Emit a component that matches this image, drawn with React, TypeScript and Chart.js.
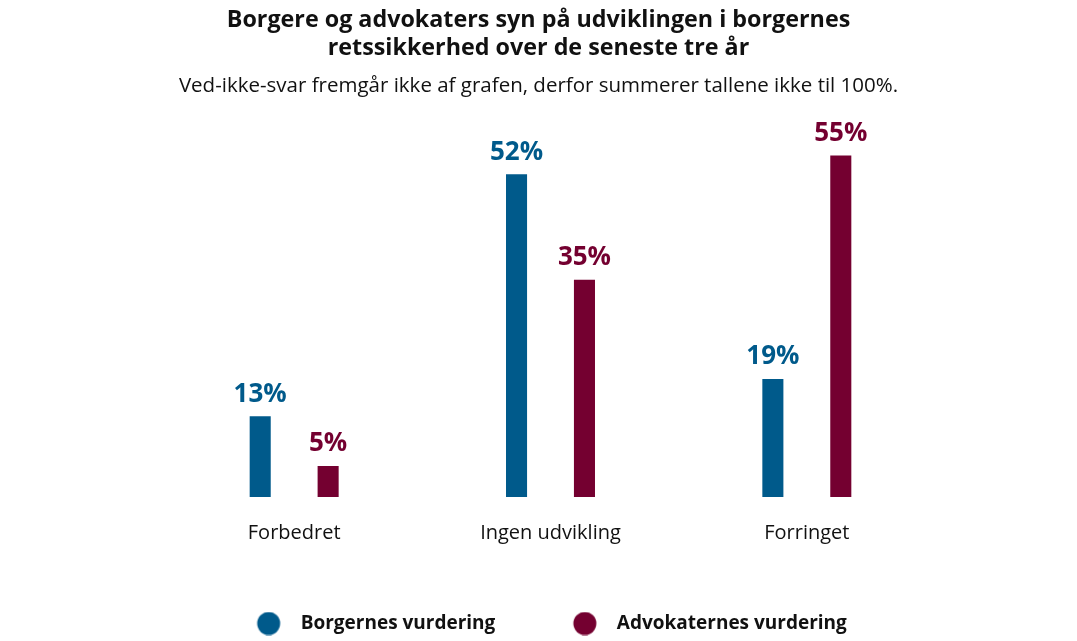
import { useEffect, useRef } from "react";
import { Chart, registerables } from "chart.js";

Chart.register(...registerables);

const FONT = "'Open Sans'";
const BLUE = "#005a8b";
const RED = "#740030";

const categories = ["Forbedret", "Ingen udvikling", "Forringet"];
const borgerne = [13, 52, 19];
const advokaterne = [5, 35, 55];
const seriesNames = ["Borgernes vurdering", "Advokaternes vurdering"];
const titleLines = [
  "Borgere og advokaters syn på udviklingen i borgernes",
  "retssikkerhed over de seneste tre år",
];
const subtitleText =
  "Ved-ikke-svar fremgår ikke af grafen, derfor summerer tallene ikke til 100%.";

// round legend marker, drawn a little right of the box centre
const dot = (color: string) => {
  const c = document.createElement("canvas");
  c.width = 42;
  c.height = 24;
  const g = c.getContext("2d")!;
  g.fillStyle = color;
  g.beginPath();
  g.arc(29, 12, 11.5, 0, Math.PI * 2);
  g.fill();
  return c;
};

// draws the percentage above each bar
const valueLabels = {
  id: "valueLabels",
  afterDatasetsDraw(chart: any) {
    const { ctx } = chart;
    ctx.save();
    ctx.font = `bold 26px ${FONT}`;
    ctx.textAlign = "center";
    ctx.textBaseline = "bottom";
    chart.data.datasets.forEach((ds: any, i: number) => {
      const meta = chart.getDatasetMeta(i);
      meta.data.forEach((bar: any, j: number) => {
        ctx.fillStyle = ds.backgroundColor;
        ctx.fillText(ds.data[j] + "%", bar.x, bar.y - 9);
      });
    });
    ctx.restore();
  },
};

export default function App() {
  const chartRef = useRef(null);

  useEffect(() => {
    if (chartRef && chartRef.current) {
      const dots = [dot(BLUE), dot(RED)];
      const chartInstance = new Chart(chartRef.current, {
        type: "bar",
        data: {
          labels: categories,
          datasets: [
            {
              label: seriesNames[0],
              data: borgerne,
              backgroundColor: BLUE,
              pointStyle: dots[0],
              categoryPercentage: 0.53,
              barPercentage: 0.31,
            },
            {
              label: seriesNames[1],
              data: advokaterne,
              backgroundColor: RED,
              pointStyle: dots[1],
              categoryPercentage: 0.53,
              barPercentage: 0.31,
            },
          ],
        },
        options: {
          animation: false,
          responsive: true,
          maintainAspectRatio: false,
          layout: { padding: { left: 142, right: 142, top: 0, bottom: -2 } },
          scales: {
            x: {
              grid: { display: false, drawTicks: false },
              border: { display: false },
              ticks: {
                color: "#111",
                font: { family: FONT, size: 20 },
                padding: 24,
              },
              afterFit: (axis: any) => {
                axis.height = 66;
              },
            },
            y: {
              min: 0,
              max: 60,
              grid: { display: false },
              border: { display: false },
              ticks: { display: false },
              afterFit: (axis: any) => {
                axis.width = 24;
              },
            },
          },
          plugins: {
            title: {
              display: true,
              text: titleLines,
              color: "#111",
              font: { family: FONT, size: 23.3, weight: "bold", lineHeight: 1.22 },
              padding: { top: 6, bottom: 11 },
            },
            subtitle: {
              display: true,
              text: subtitleText,
              color: "#111",
              font: { family: FONT, size: 20.5 },
              padding: { top: 0, bottom: 26 },
            },
            legend: {
              position: "bottom",
              labels: {
                usePointStyle: true,
                pointStyleWidth: 61,
                padding: 51,
                color: "#111",
                font: { family: FONT, size: 19, weight: "bold" },
              },
            },
            tooltip: { enabled: false },
          },
        },
        plugins: [valueLabels],
      });

      return () => {
        chartInstance.destroy();
      };
    }
  }, []);

  return (
    <div
      style={{
        position: "fixed",
        left: 0,
        top: 0,
        width: 1077,
        height: 641,
        background: "#fff",
      }}
    >
      <canvas ref={chartRef} />
    </div>
  );
}
